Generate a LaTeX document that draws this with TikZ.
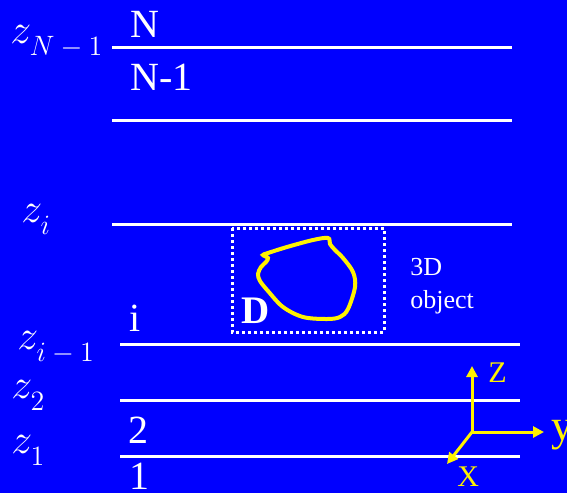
\RequirePackage{fix-cm}
\documentclass[tikz,border=0pt]{standalone}
\usepackage{fontspec}
\setmainfont{Liberation Serif}
\usetikzlibrary{arrows.meta}

\newcommand{\zsub}[1]{$z_{\raisebox{-0.15em}{\fontsize{14}{16}\selectfont$#1$}}$}

\begin{document}
\begin{tikzpicture}[x=0.5pt, y=-0.5pt, >={Triangle[length=5.5pt,width=5.5pt]},
  layer/.style={draw=white, line width=1.5pt},
  num/.style={anchor=base west, inner sep=0pt, text=white, font=\fontsize{20}{24}\selectfont},
  zlab/.style={anchor=base west, inner sep=0pt, text=white, font=\fontsize{21}{24}\selectfont},
  small/.style={anchor=base west, inner sep=0pt, text=white, font=\fontsize{13}{16}\selectfont},
  axis/.style={->, draw=yellow, line width=1.5pt},
  axlab/.style={anchor=base west, inner sep=0pt, text=yellow, font=\fontsize{15}{18}\selectfont}]

    % Fond
    \fill[blue] (0,0) rectangle (567,493);
    \useasboundingbox (0,0) rectangle (567,493);

    % Couches
    \draw[layer] (112,47) -- (512,47);
    \draw[layer] (112,120) -- (512,120);
    \draw[layer] (112,224) -- (512,224);
    \draw[layer] (120,344) -- (520,344);
    \draw[layer] (120,400) -- (520,400);
    \draw[layer] (120,456) -- (520,456);

    % Numeros des couches
    \node[num] (nN) at (130,37) {N};
    \node[num] (nNm) at (130,90) {N-1};
    \node[num] (ni) at (129,331) {i};
    \node[num] (ntwo) at (128,443) {2};
    \node[num] (none) at (129,489) {1};

    % Cotes z
    \node[zlab] (zN) at (10,43) {\zsub{N-1}};
    \node[zlab] (zi) at (21,222) {\zsub{i}};
    \node[zlab] (zim) at (17,349) {\zsub{i-1}};
    \node[zlab] (ztwo) at (11,398) {\zsub{2}};
    \node[zlab] (zone) at (11,453) {\zsub{1}};

    % Domaine D
    \draw[white, line width=1.5pt, dash pattern=on 1.5pt off 1.5pt] (232,228) rectangle (384,332);
    \node[anchor=base west, inner sep=0pt, text=white, font=\fontsize{19.5}{22}\selectfont\bfseries] (dom) at (241,323) {D};
    \draw[yellow, line width=2pt] plot[smooth cycle, tension=0.55] coordinates {
      (263,255) (268,258) (266,262) (261,267) (258,274) (260,281) (268,291) (283,307)
      (303,317) (327,319) (340,317) (348,309) (355,287) (353,272) (343,258) (335,250)
      (330,244) (328,238) (313,240) (287,247) (268,253)};
    \node[small] (thrd) at (410,275) {3D};
    \node[small] (obj) at (410,308) {object};

    % Axes
    \coordinate (orig) at (472,432);
    \coordinate (zend) at (472,366);
    \coordinate (yend) at (544,432);
    \coordinate (xend) at (447,464);
    \draw[axis] (orig) -- (zend);
    \draw[axis] (orig) -- (yend);
    \draw[axis] (orig) -- (xend);
    \node[axlab] (zl) at (488,382) {Z};
    \node[axlab] (xl) at (457,486) {X};
    \node[axlab, font=\fontsize{22}{26}\selectfont] (yl) at (551,440) {y};

\end{tikzpicture}
\end{document}
